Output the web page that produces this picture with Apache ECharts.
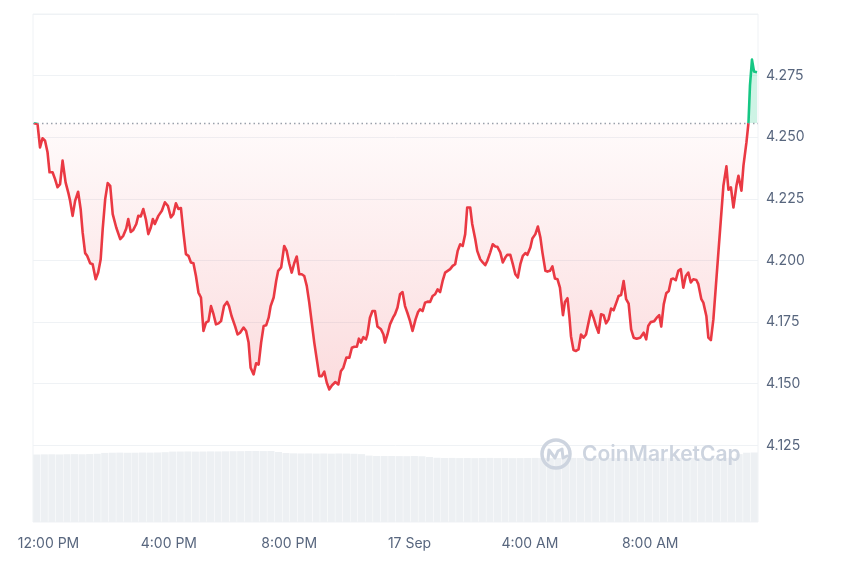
<!DOCTYPE html>
<html><head><meta charset="utf-8">
<script src="https://cdn.jsdelivr.net/npm/echarts@6/dist/echarts.min.js"></script>
<style>html,body{margin:0;padding:0;background:#fff}#c{width:850px;height:567px}</style>
</head><body><div id="c"></div>
<script>
// Opening (reference) price of the period
const basePrice = 4.2557;

// minutes since 16 Sep 12:00 PM
const times = [-29,-22,-17,-12,-7,-2,2,8,13,18,23,28,34,40,43,48,53,59,64,68,73,77,83,88,94,99,104,108,113,118,123,128,135,143,149,155,159,164,169,175,179,184,189,194,199,204,208,212,219,226,232,238,244,249,254,259,264,269,274,279,284,289,294,299,304,309,314,319,324,329,334,339,344,350,356,360,365,372,377,382,389,394,399,403,409,414,419,424,429,434,439,443,449,454,458,464,470,475,480,485,490,495,500,505,510,515,520,525,530,535,540,545,550,555,560,565,572,578,583,588,594,600,605,610,615,619,623,628,633,636,641,646,651,656,663,668,671,676,681,687,691,696,701,706,711,716,721,726,732,737,741,746,751,756,761,766,771,776,781,786,791,796,801,806,811,816,821,826,831,835,841,845,851,855,861,866,871,875,881,886,891,895,901,906,911,915,921,926,931,936,941,946,951,955,961,965,971,976,981,985,991,995,1000,1005,1010,1015,1020,1026,1030,1035,1039,1042,1047,1052,1057,1062,1067,1072,1077,1082,1087,1092,1097,1102,1107,1112,1117,1122,1127,1133,1137,1142,1147,1152,1157,1162,1167,1173,1180,1187,1192,1196,1201,1208,1213,1218,1222,1227,1232,1237,1242,1246,1251,1256,1261,1266,1271,1276,1281,1286,1292,1296,1302,1306,1312,1316,1321,1326,1331,1336,1341,1346,1352,1356,1361,1366,1372,1376,1382,1386,1392,1396,1399,1403,1407,1413];

const prices = [4.2557,4.2554,4.2459,4.2496,4.2486,4.2439,4.2358,4.2358,4.2330,4.2297,4.2310,4.2405,4.2317,4.2270,4.2242,4.2181,4.2242,4.2279,4.2209,4.2114,4.2030,4.2019,4.1989,4.1985,4.1924,4.1951,4.2005,4.2127,4.2249,4.2314,4.2303,4.2188,4.2134,4.2087,4.2100,4.2130,4.2168,4.2116,4.2124,4.2148,4.2181,4.2179,4.2209,4.2168,4.2107,4.2134,4.2168,4.2148,4.2181,4.2202,4.2236,4.2222,4.2175,4.2188,4.2232,4.2209,4.2213,4.2114,4.2026,4.2019,4.1992,4.1989,4.1937,4.1870,4.1850,4.1714,4.1748,4.1754,4.1815,4.1782,4.1741,4.1745,4.1754,4.1815,4.1832,4.1815,4.1775,4.1734,4.1700,4.1707,4.1728,4.1714,4.1667,4.1565,4.1538,4.1583,4.1578,4.1667,4.1734,4.1737,4.1768,4.1815,4.1850,4.1917,4.1958,4.1972,4.2059,4.2039,4.1989,4.1951,4.1989,4.2016,4.1944,4.1944,4.1937,4.1897,4.1829,4.1748,4.1667,4.1599,4.1531,4.1531,4.1549,4.1504,4.1477,4.1493,4.1507,4.1497,4.1551,4.1565,4.1606,4.1606,4.1646,4.1650,4.1650,4.1683,4.1667,4.1689,4.1680,4.1700,4.1768,4.1795,4.1795,4.1732,4.1721,4.1700,4.1667,4.1700,4.1741,4.1768,4.1782,4.1809,4.1863,4.1872,4.1815,4.1786,4.1754,4.1714,4.1761,4.1791,4.1802,4.1795,4.1829,4.1833,4.1832,4.1856,4.1863,4.1883,4.1872,4.1917,4.1951,4.1958,4.1965,4.1978,4.1985,4.2039,4.2066,4.2059,4.2107,4.2215,4.2215,4.2148,4.2087,4.2039,4.2005,4.1992,4.1981,4.1998,4.2033,4.2066,4.2057,4.2056,4.2033,4.1992,4.2012,4.2023,4.2023,4.1985,4.1944,4.1931,4.1985,4.2019,4.2030,4.2023,4.2053,4.2089,4.2107,4.2138,4.2093,4.2033,4.1958,4.1955,4.1958,4.1976,4.1927,4.1924,4.1890,4.1778,4.1832,4.1847,4.1768,4.1693,4.1637,4.1633,4.1639,4.1700,4.1687,4.1700,4.1748,4.1795,4.1768,4.1734,4.1707,4.1782,4.1778,4.1745,4.1761,4.1805,4.1798,4.1832,4.1856,4.1860,4.1917,4.1843,4.1825,4.1721,4.1687,4.1683,4.1687,4.1707,4.1680,4.1734,4.1750,4.1754,4.1768,4.1778,4.1732,4.1822,4.1867,4.1876,4.1924,4.1927,4.1920,4.1958,4.1965,4.1890,4.1937,4.1951,4.1911,4.1924,4.1921,4.1904,4.1843,4.1829,4.1775,4.1687,4.1677,4.1761,4.1897,4.2033,4.2168,4.2303,4.2382,4.2287,4.2297,4.2215,4.2303,4.2344,4.2283,4.2385,4.2480,4.2558,4.2710,4.2815,4.2767,4.2764];

// rolling volume bars (relative units), 15-minute slots
const volume = [93.0,93.2,93.3,93.1,93.4,93.5,93.3,93.6,94.0,
95.2,95.5,95.6,95.4,95.5,95.7,95.6,95.8,96.2,
97.0,97.1,97.2,97.0,97.1,97.3,97.2,97.4,97.5,97.6,
97.8,97.9,97.7,97.8,96.5,
95.0,94.6,94.4,94.5,94.3,94.4,94.2,94.4,94.3,94.0,93.5,
91.5,91.0,90.9,91.0,90.8,90.7,90.9,90.6,89.5,
88.5,88.2,88.3,88.1,88.2,88.0,88.2,88.3,88.1,88.2,88.0,88.1,88.2,88.3,88.1,88.0,88.2,88.1,88.3,88.2,88.0,88.1,88.2,88.3,88.1,88.2,88.0,88.1,88.2,88.3,88.1,88.0,88.2,88.1,88.3,88.2,88.0,88.1,88.2,88.5,
93.5,95.5,95.8];

const xTickValues = [0,240,480,720,960,1200];
const xTickLabels = ['12:00 PM','4:00 PM','8:00 PM','17 Sep','4:00 AM','8:00 AM'];

const RED = '#ea3943', GREEN = '#16c784', GRID = '#eff2f5', LABEL = '#58667e';
const FONT = 'Inter, "Noto Sans", sans-serif';

const chart = echarts.init(document.getElementById('c'), null, {renderer:'canvas'});
const option = {
  animation:false,
  backgroundColor:'#fff',
  grid:[
    {left:33, right:92, top:14, bottom:60},
    {left:33, right:92, top:14, bottom:45, show:true, borderColor:GRID, borderWidth:1, backgroundColor:'transparent'}
  ],
  xAxis:[
    {gridIndex:0, type:'value', min:-31, max:1415, offset:15,
     axisLine:{show:false}, axisTick:{show:false}, splitLine:{show:false},
     axisLabel:{customValues:xTickValues, color:LABEL, fontSize:14, fontFamily:FONT, margin:15,
       formatter:v=>{const i=xTickValues.indexOf(v);return i>=0?xTickLabels[i]:'';}}},
    {gridIndex:1, type:'category', show:false, boundaryGap:true}
  ],
  yAxis:[
    {gridIndex:0, type:'value', position:'right', min:4.1, max:4.3, interval:0.025,
     axisLine:{show:false}, axisTick:{show:false},
     axisLabel:{color:LABEL, fontSize:14, fontFamily:FONT, margin:8,
       formatter:v=>(Math.abs(v-4.1)<1e-6||Math.abs(v-4.3)<1e-6)?'':v.toFixed(3)},
     splitLine:{lineStyle:{color:['rgba(0,0,0,0)',GRID,GRID,GRID,GRID,GRID,GRID,GRID,GRID], width:1}}},
    {gridIndex:1, type:'value', min:0, max:700, show:false}
  ],
  graphic:[
    {type:'circle', z:50, silent:true, shape:{cx:556, cy:454, r:14}, style:{fill:'none', stroke:'#cdd4df', lineWidth:3.5}},
    {type:'polyline', z:50, silent:true, shape:{points:[[548,460],[549,450],[555,458],[558,451],[562,449],[563,458],[567,456]]}, style:{fill:'none', stroke:'#cdd4df', lineWidth:3, lineJoin:'round', lineCap:'round'}},
    {type:'text', z:50, silent:true, style:{x:582, y:455, text:'CoinMarketCap', fontSize:21, fontWeight:600, fontFamily:FONT, fill:'#cdd4df', verticalAlign:'middle'}}
  ],
  series:[
    {type:'bar', xAxisIndex:1, yAxisIndex:1, data:volume, silent:true, barCategoryGap:'6%',
     itemStyle:{color:'#edf0f3'}, z:1},
    {id:'price', type:'line', xAxisIndex:0, yAxisIndex:0, z:3,
     data:times.map((t,i)=>[t, prices[i]]),
     showSymbol:false, symbol:'none',
     lineStyle:{width:2.6, color:RED, join:'round'},
     areaStyle:{origin:basePrice, color:'rgba(234,57,67,0.1)'},
     markLine:{silent:true, precision:4, symbol:['none','none'], label:{show:false},
       lineStyle:{type:[1.5,3], color:'#9aa1ab', width:1.3},
       data:[{yAxis:basePrice}]}}
  ]
};
chart.setOption(option);

const H = 567;
const yb = chart.convertToPixel({yAxisIndex:0}, basePrice);
const yLow = chart.convertToPixel({yAxisIndex:0}, Math.min.apply(null, prices));
const fb = yb / H, fl = yLow / H;
chart.setOption({series:[{id:'price',
  lineStyle:{color:new echarts.graphic.LinearGradient(0,0,0,H,[
    {offset:0,color:GREEN},{offset:fb,color:GREEN},{offset:fb+0.0001,color:RED},{offset:1,color:RED}], true)},
  areaStyle:{color:new echarts.graphic.LinearGradient(0,0,0,H,[
    {offset:0,color:'rgba(22,199,132,0.3)'},{offset:fb,color:'rgba(22,199,132,0.3)'},
    {offset:fb+0.0001,color:'rgba(234,57,67,0.03)'},{offset:fl,color:'rgba(234,57,67,0.25)'},{offset:1,color:'rgba(234,57,67,0.3)'}], true)}
}]});
</script></body></html>
